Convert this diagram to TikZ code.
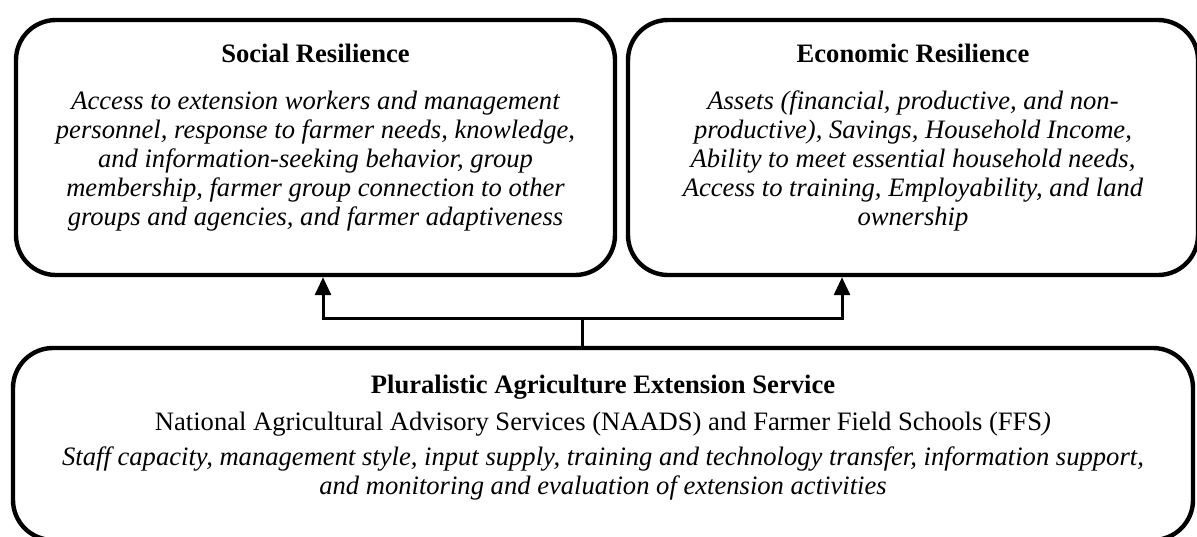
\documentclass[tikz,border=0pt]{standalone}
\usepackage{fontspec}
\setmainfont{Liberation Serif}
\usetikzlibrary{positioning,arrows.meta}

\tikzset{
  resbox/.style={draw, line width=2.2pt, rounded corners=20pt, align=center,
    inner sep=0pt, font=\fontsize{13.3}{14.5}\selectfont\itshape},
  link/.style={line width=1.5pt},
  tip/.style={-{Triangle[length=9pt,width=8pt]}}
}

\begin{document}
\begin{tikzpicture}[x=0.5pt, y=-0.5pt]
  \clip (0,0) rectangle (1197,536);
  \node[resbox, minimum width=299.5pt, minimum height=127.5pt] (social) at (315.5,147.5)
  {\textbf{\upshape Social Resilience}\\[9pt]
   Access to extension workers and management\\
   personnel, response to farmer needs, knowledge,\\
   and information-seeking behavior, group\\
   membership, farmer group connection to other\\
   groups and agencies, and farmer adaptiveness\\[-2pt]\mbox{}};
  \node[resbox, minimum width=285pt, minimum height=127.5pt] (economic) at (913,147.5)
  {\textbf{\upshape Economic Resilience}\\[9pt]
   Assets (financial, productive, and non-\\
   productive), Savings, Household Income,\\
   Ability to meet essential household needs,\\
   Access to training, Employability, and land\\
   ownership\\[-2pt]\mbox{}};
  \node[resbox, minimum width=590pt, minimum height=96pt] (service) at (603,444)
  {\textbf{\upshape Pluralistic Agriculture Extension Service}\\[4pt]
   {\upshape National Agricultural Advisory Services (NAADS) and Farmer Field Schools (FFS})\\[3pt]
   Staff capacity, management style, input supply, training and technology transfer, information support,\\
   and monitoring and evaluation of extension activities\\[-5pt]\mbox{}};

  % connectors
  \coordinate (fork) at (582,318);
  \coordinate (socialFoot) at (323,318);
  \coordinate (economicFoot) at (842,318);
  \draw[link] (service.north -| fork) -- (fork);
  \draw[link, tip] (fork) -| (socialFoot |- social.south);
  \draw[link, tip] (fork) -| (economicFoot |- economic.south);
\end{tikzpicture}
\end{document}
